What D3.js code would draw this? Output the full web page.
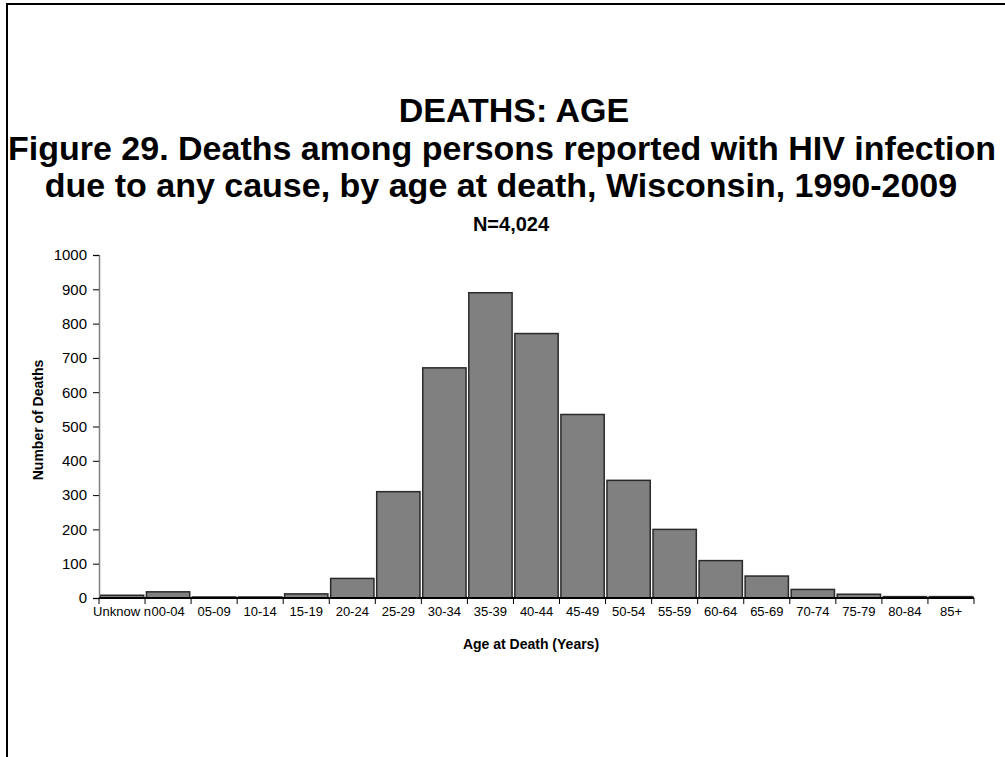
<!DOCTYPE html>
<html><head><meta charset="utf-8">
<script src="https://cdn.jsdelivr.net/npm/d3@7"></script>
<style>body{margin:0;background:#fff}svg{display:block}</style>
</head><body>
<svg id="c" width="1005" height="757"></svg>
<script>
const categories = ["Unknown","00-04","05-09","10-14","15-19","20-24","25-29","30-34","35-39","40-44","45-49","50-54","55-59","60-64","65-69","70-74","75-79","80-84","85+"];
const deaths = [8,18,3,3,12,57,310,671,890,771,535,343,200,109,64,25,11,4,4];
const yTicks = [0,100,200,300,400,500,600,700,800,900,1000];

const svg = d3.select("#c");
const font = "'Liberation Sans', Arial, sans-serif";
// border
svg.append("path").attr("d","M7,757 L7,4 L1005,4").attr("fill","none").attr("stroke","#000").attr("stroke-width",2);

const x = d3.scaleBand().domain(categories).range([99,974]).paddingInner(0.06).paddingOuter(0.03);
const y = d3.scaleLinear().domain([0,1000]).range([598,255]);

// titles
const t = svg.append("g").attr("font-family",font).attr("font-weight","bold").attr("text-anchor","middle").attr("fill","#000");
t.append("text").attr("x",514).attr("y",122).attr("font-size",34).text("DEATHS: AGE");
t.append("text").attr("x",502).attr("y",160).attr("font-size",34).text("Figure 29. Deaths among persons reported with HIV infection");
t.append("text").attr("x",501).attr("y",197).attr("font-size",34).text("due to any cause, by age at death, Wisconsin, 1990-2009");
t.append("text").attr("x",511).attr("y",231).attr("font-size",20).text("N=4,024");

// bars
svg.append("g").selectAll("rect").data(categories).join("rect")
  .attr("x",d=>x(d)).attr("width",x.bandwidth())
  .attr("y",(d,i)=>y(deaths[i])).attr("height",(d,i)=>y(0)-y(deaths[i]))
  .attr("fill","#808080").attr("stroke","#2a2a2a").attr("stroke-width",1.5);

// y axis
const ya = svg.append("g").attr("transform","translate(99,0)")
  .call(d3.axisLeft(y).tickValues(yTicks).tickFormat(d3.format("d")).tickSize(6).tickPadding(6));
ya.select(".domain").attr("stroke","#808080").attr("stroke-width",1.5);
ya.selectAll(".tick line").attr("stroke","#000");
ya.selectAll("text").attr("font-family",font).attr("font-size",15).attr("fill","#000");

// x axis
const xa = svg.append("g").attr("transform","translate(0,598)")
  .call(d3.axisBottom(x).tickSize(0).tickPadding(9));
xa.select(".domain").remove();
xa.selectAll("text").attr("font-family",font).attr("font-size",13).attr("fill","#000")
  .text(d=>d==="Unknown"?"Unknow n":d);
svg.append("line").attr("x1",99).attr("x2",974).attr("y1",598).attr("y2",598).attr("stroke","#000").attr("stroke-width",2);
const bounds = [99].concat(categories.map(c=>x(c)+x.bandwidth()+x.step()*x.paddingInner()/2));
bounds[bounds.length-1]=974;
svg.append("g").selectAll("line").data(bounds).join("line")
  .attr("x1",d=>d).attr("x2",d=>d).attr("y1",598).attr("y2",604).attr("stroke","#000").attr("stroke-width",1);

// axis titles
svg.append("text").attr("x",531).attr("y",649).attr("text-anchor","middle").attr("font-family",font)
  .attr("font-weight","bold").attr("font-size",14).text("Age at Death (Years)");
svg.append("text").attr("transform","translate(43,420) rotate(-90)").attr("text-anchor","middle").attr("font-family",font)
  .attr("font-weight","bold").attr("font-size",14).text("Number of Deaths");
</script>
</body></html>
